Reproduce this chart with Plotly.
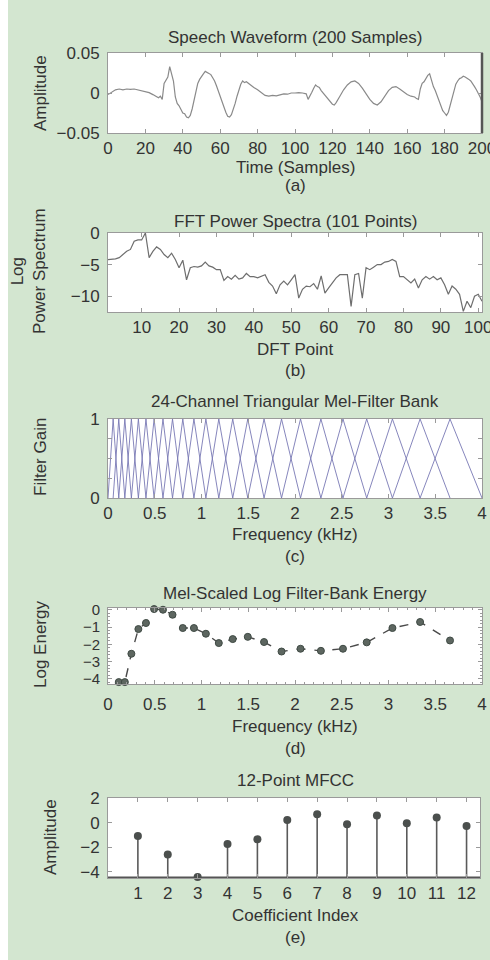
import plotly.graph_objects as go

W, H = 490, 960

# ---------------- data ----------------
wave_t = [0, 2, 4, 6, 8, 10, 12, 14, 16, 18, 20, 22, 24, 26, 27, 28, 29, 30, 31, 32, 33, 34, 35, 36, 37, 38, 39,
          40, 41, 42, 43, 44, 45, 46, 47, 48, 49, 50, 51, 52, 53, 54, 55, 56, 57, 58, 59, 60, 61, 62, 63, 64, 65,
          66, 67, 68, 69, 70, 71, 72, 73, 74, 75, 76, 77, 78, 80, 82, 84, 86, 88, 90, 92, 94, 96, 98, 100, 102,
          104, 106, 107, 108, 109, 110, 111, 112, 113, 114, 115, 116, 118, 120, 121, 122, 124, 126, 128, 130, 132,
          134, 136, 138, 140, 142, 144, 146, 148, 150, 152, 154, 156, 158, 160, 162, 164, 165, 166, 167, 168, 169,
          170, 171, 172, 173, 174, 175, 176, 177, 178, 179, 180, 181, 182, 183, 184, 185, 186, 187, 188, 189, 190,
          191, 192, 193, 194, 195, 196, 197, 198, 199, 200]
wave_mA = [-2, 1, 4, 5, 4, 5, 4.5, 5, 4, 3, 2, 0.5, -2, -5, -6, -4, -8, 12, 16, 20, 33, 24, 15, -5, -13, -16, -20,
           -25, -26, -30, -31, -28, -20, -8, 4, 12, 17, 21, 24, 27, 26, 24, 23, 19, 15, 9, 2, -5, -12, -19, -24, -29, -30,
           -27, -21, -13, -4, 5, 11, 15, 13, 14, 12, 11, 8, 7, 4, 0, -3, -4, -3, -3.5, -2, -1, -1.5, 0, 0, 0.5,
           0, -1, -8, -4, 1, 6, 10, 8, 7, 3, 0, -3, -8, -14, -15, -12, -4, 4, 10, 14, 15,
           12, 6, -1, -8, -13, -15, -11, -4, 3, 7, 8, 5, 1, -2, -4, -5, -7, -8, 5, 12, 14,
           18, 22, 24, 15, 8, 3, -3, -10, -17, -22, -25, -28, -24, -15, -5, 4, 11, 15, 18, 19, 21,
           20, 19, 17, 15, 12, 8, 4, 0, -5, -11]
wave_amp = [v / 1000.0 for v in wave_mA]

fft_db = [-4.2, -4.2, -4.1, -3.9, -3.4, -2.9, -2.6, -1.3, -1.1, -1.1,
          0.0, -3.9, -2.9, -2.2, -2.6, -3.4, -3.9, -3.2, -4.2, -5.5,
          -4.3, -7.4, -5.5, -5.3, -5.4, -5.2, -4.6, -5.2, -5.4, -5.8,
          -5.8, -7.5, -6.9, -7.3, -6.7, -7.3, -7.1, -6.4, -6.9, -6.9,
          -7.1, -6.9, -6.6, -7.8, -8.4, -9.6, -8.2, -7.6, -8.2, -7.4,
          -6.6, -10.3, -8.9, -8.4, -8.5, -8.0, -8.9, -6.8, -9.5, -8.7,
          -7.9, -7.1, -6.6, -6.6, -6.6, -11.6, -6.6, -6.4, -10.3, -5.5,
          -5.8, -5.4, -5.0, -5.0, -4.6, -4.5, -4.2, -4.5, -6.9, -6.9,
          -7.4, -7.9, -7.3, -8.7, -7.4, -6.9, -7.3, -6.9, -7.4, -7.1,
          -8.2, -9.7, -8.4, -8.9, -9.7, -12.4, -10.8, -11.8, -10.0, -9.7,
          -10.8]
fft_pt = list(range(1, len(fft_db) + 1))

# mel filter edge frequencies (kHz): 26 edges -> 24 triangular filters
mel_edges = [0.0, 0.055, 0.115, 0.180, 0.250, 0.325, 0.406, 0.493, 0.588, 0.690, 0.800, 0.919, 1.047,
             1.185, 1.334, 1.495, 1.669, 1.856, 2.059, 2.277, 2.513, 2.767, 3.042, 3.338, 3.658, 4.0]

# log filter-bank energy at each filter centre
fb_freq = mel_edges[1:25]
fb_energy = [-4.4, -4.19, -4.19, -2.55, -1.12, -0.77, 0.04, 0.0, -0.29, -1.06, -1.06, -1.39,
             -1.93, -1.70, -1.57, -1.87, -2.42, -2.26, -2.38, -2.26, -1.89, -1.06, -0.71, -1.78]

mfcc_idx = [1, 2, 3, 4, 5, 6, 7, 8, 9, 10, 11, 12]
mfcc_val = [-1.09, -2.59, -4.41, -1.74, -1.36, 0.22, 0.68, -0.14, 0.57, -0.05, 0.41, -0.27]
mfcc_base = -4.45

# ---------------- layout helpers ----------------
FONT = "Liberation Sans, Arial, Helvetica, sans-serif"
TXT = "#333333"
FS = 17
GREEN = "#d3e6d0"
AX = "#9a9a9a"


def px_x(x):
    return x / W


def px_y(y):
    return 1 - y / H


panels = [  # (x0, x1, ytop, ybottom)
    (108, 482, 53, 133),
    (108, 482, 233, 312),
    (108, 482, 419, 498),
    (108, 482, 608, 684),
    (108, 480, 798, 878),
]

fig = go.Figure()

# (a) waveform
fig.add_trace(go.Scatter(x=wave_t, y=wave_amp, mode="lines", line=dict(color="#8a8a8a", width=1.2),
                         xaxis="x", yaxis="y", showlegend=False))
# (b) FFT
fig.add_trace(go.Scatter(x=fft_pt, y=fft_db, mode="lines", line=dict(color="#6e6e6e", width=1.2),
                         xaxis="x2", yaxis="y2", showlegend=False))
# (c) mel filter bank
for i in range(24):
    fig.add_trace(go.Scatter(x=[mel_edges[i], mel_edges[i + 1], mel_edges[i + 2]], y=[0, 1, 0],
                             mode="lines", line=dict(color="#7878b4", width=0.9),
                             xaxis="x3", yaxis="y3", showlegend=False, cliponaxis=False))
# (d) log energy
fig.add_trace(go.Scatter(x=fb_freq, y=fb_energy, mode="lines+markers",
                         line=dict(color="#4a4a4a", width=1.4, dash="dash"),
                         marker=dict(size=7, color="#5d6660", line=dict(color="#3f4a44", width=1)),
                         xaxis="x4", yaxis="y4", showlegend=False, cliponaxis=False))
# (e) MFCC stems
sx, sy = [], []
for k, v in zip(mfcc_idx, mfcc_val):
    sx += [k, k, None]
    sy += [mfcc_base, v, None]
fig.add_trace(go.Scatter(x=sx, y=sy, mode="lines", line=dict(color="#5a5a5a", width=1.6),
                         xaxis="x5", yaxis="y5", showlegend=False))
fig.add_trace(go.Scatter(x=[0, 12.45], y=[mfcc_base, mfcc_base], mode="lines",
                         line=dict(color="#555555", width=2), xaxis="x5", yaxis="y5", showlegend=False))
fig.add_trace(go.Scatter(x=mfcc_idx, y=mfcc_val, mode="markers",
                         marker=dict(size=8, color="#4b4f4d"), xaxis="x5", yaxis="y5",
                         showlegend=False, cliponaxis=False))


def axstyle(fs=FS, **kw):
    d = dict(showline=True, linecolor=AX, linewidth=1, mirror="ticks", ticks="inside", ticklen=4,
             tickcolor=AX, showgrid=False, zeroline=False, automargin=False, ticklabeloverflow="allow",
             tickfont=dict(family=FONT, size=fs, color=TXT), fixedrange=True)
    d.update(kw)
    return d


xr = [[0, 200], [1, 101], [0, 4], [0, 4], [0, 12.45]]
yr = [[-0.05, 0.05], [-12.5, 0], [0, 1], [-4.3, 0.1], [-4.5, 2.0]]
x_standoff = [0, 0, 0, 5, 0]

xt = [
    dict(tickvals=list(range(0, 201, 20)), ticktext=[str(v) for v in range(0, 201, 20)]),
    dict(tickvals=list(range(10, 101, 10)), ticktext=[str(v) for v in range(10, 101, 10)]),
    dict(tickvals=[0, 0.5, 1, 1.5, 2, 2.5, 3, 3.5, 4], ticktext=["0", "0.5", "1", "1.5", "2", "2.5", "3", "3.5", "4"]),
    dict(tickvals=[0, 0.5, 1, 1.5, 2, 2.5, 3, 3.5, 4], ticktext=["0", "0.5", "1", "1.5", "2", "2.5", "3", "3.5", "4"],
         minor=dict(dtick=0.1, ticklen=2, ticks="inside", tickcolor=AX)),
    dict(tickvals=mfcc_idx, ticktext=[str(v) for v in mfcc_idx]),
]
yt = [
    dict(tickvals=[-0.05, 0, 0.05], ticktext=["\u22120.05", "0", "0.05"]),
    dict(tickvals=[-10, -5, 0], ticktext=["\u221210", "\u22125", "0"]),
    dict(tickvals=[0, 0.25, 0.5, 0.75, 1], ticktext=["0", "", "", "", "1"]),
    dict(tickvals=[-4, -3, -2, -1, 0], ticktext=["\u22124", "\u22123", "\u22122", "\u22121", "0"],
         minor=dict(dtick=0.2, ticklen=2, ticks="inside", tickcolor=AX)),
    dict(tickvals=[-4, -2, 0, 2], ticktext=["\u22124", "\u22122", "0", "2"]),
]

lay = {}
for i, (x0, x1, yt0, yb0) in enumerate(panels):
    n = "" if i == 0 else str(i + 1)
    lay["xaxis" + n] = axstyle(domain=[px_x(x0), px_x(x1)], range=xr[i], anchor="y" + n,
                               ticklabelstandoff=x_standoff[i], **xt[i])
    lay["yaxis" + n] = axstyle(fs=(15 if i == 3 else FS), domain=[px_y(yb0), px_y(yt0)], range=yr[i],
                               anchor="x" + n, ticklabelstandoff=4, **yt[i])

fig.update_layout(width=W, height=H, margin=dict(l=0, r=0, t=0, b=0, autoexpand=False), paper_bgcolor=GREEN,
                  plot_bgcolor="white", font=dict(family=FONT, size=FS, color=TXT), **lay)

# white strip on the left edge
fig.add_shape(type="rect", xref="paper", yref="paper", x0=0, x1=px_x(8), y0=0, y1=1,
              fillcolor="white", line=dict(width=0), layer="below")
# dark right border of panel (a)
fig.add_shape(type="line", xref="paper", yref="paper", x0=px_x(482), x1=px_x(482),
              y0=px_y(133), y1=px_y(53), line=dict(color="#555555", width=2.5))

titles = [
    ("Speech Waveform (200 Samples)", 37),
    ("FFT Power Spectra (101 Points)", 221),
    ("24-Channel Triangular Mel-Filter Bank", 402),
    ("Mel-Scaled Log Filter-Bank Energy", 593),
    ("12-Point MFCC", 780),
]
xlabels = [
    ("Time (Samples)", 167), ("DFT Point", 349), ("Frequency (kHz)", 534),
    ("Frequency (kHz)", 726), ("Coefficient Index", 915),
]
tags = [("(a)", 186), ("(b)", 370), ("(c)", 556), ("(d)", 748), ("(e)", 937)]
ylabels = [
    ("Amplitude", 40, 93), ("Log<br>Power Spectrum", 29, 271), ("Filter Gain", 40, 457),
    ("Log Energy", 40, 645), ("Amplitude", 50, 837),
]

ann = []
for t, y in titles + xlabels + tags:
    ann.append(dict(text=t, x=px_x(295), y=px_y(y), xref="paper", yref="paper", showarrow=False,
                    xanchor="center", yanchor="middle", font=dict(family=FONT, size=FS, color=TXT)))
for t, x, y in ylabels:
    ann.append(dict(text=t, x=px_x(x), y=px_y(y), xref="paper", yref="paper", showarrow=False,
                    xanchor="center", yanchor="middle", textangle=-90,
                    font=dict(family=FONT, size=FS, color=TXT)))
fig.update_layout(annotations=ann)

fig.write_html("out.html", config=dict(displayModeBar=False),
               post_script="document.body.style.margin='0';document.body.style.overflow='hidden';")
